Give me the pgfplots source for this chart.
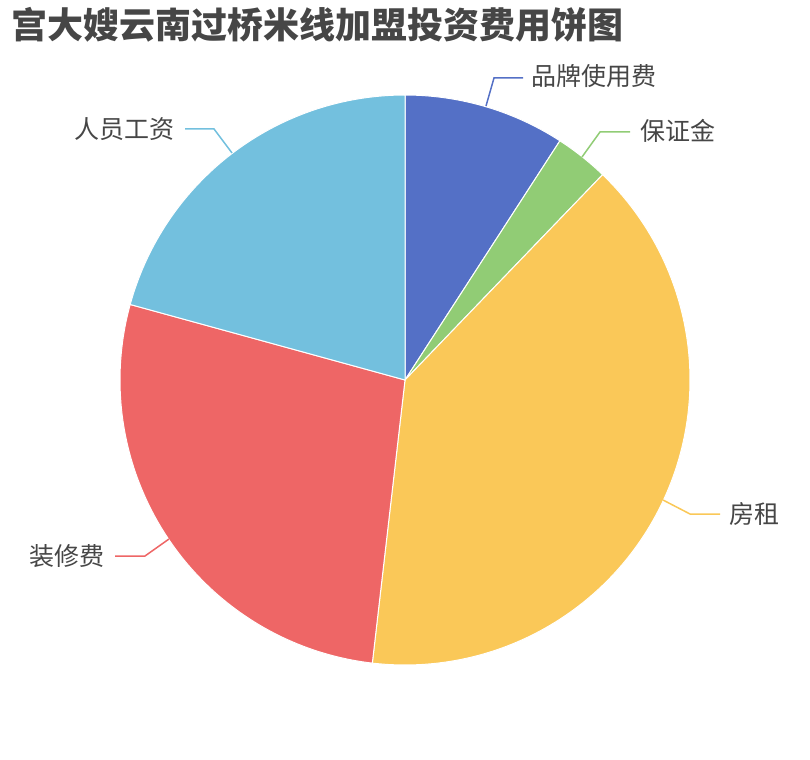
\documentclass[border=0pt]{standalone}
\usepackage{pgfplots}
\pgfplotsset{compat=1.18}
\usepackage{fontspec}
\newfontfamily\cjk{Noto Sans CJK SC}
\definecolor{cA}{HTML}{5470C6}
\definecolor{cB}{HTML}{91CC75}
\definecolor{cC}{HTML}{FAC858}
\definecolor{cD}{HTML}{EE6666}
\definecolor{cE}{HTML}{73C0DE}
\definecolor{txt}{HTML}{464646}
% slice values
\def\vA{3}\def\vB{1}\def\vC{13}\def\vD{9}\def\vE{6.8}
\begin{document}
\begin{tikzpicture}
\pgfmathsetmacro\tot{\vA+\vB+\vC+\vD+\vE}
\pgfmathsetmacro\aA{0}
\pgfmathsetmacro\aB{360*\vA/\tot}
\pgfmathsetmacro\aC{360*(\vA+\vB)/\tot}
\pgfmathsetmacro\aD{360*(\vA+\vB+\vC)/\tot}
\pgfmathsetmacro\aE{360*(\vA+\vB+\vC+\vD)/\tot}
\pgfmathsetmacro\aF{360}
\begin{axis}[
  scale only axis, width=405pt, height=380pt,
  xmin=0, xmax=810, ymin=0, ymax=760, y dir=reverse,
  hide axis, clip=false,
]
\def\cx{405}\def\cy{380}\def\R{285}
\addplot[fill=cA, draw=white, line width=0.5pt, domain=\aA:\aB, samples=40] ({\cx+\R*sin(x)},{\cy-\R*cos(x)}) -- (axis cs:\cx,\cy) -- cycle;
\addplot[fill=cB, draw=white, line width=0.5pt, domain=\aB:\aC, samples=20] ({\cx+\R*sin(x)},{\cy-\R*cos(x)}) -- (axis cs:\cx,\cy) -- cycle;
\addplot[fill=cC, draw=white, line width=0.5pt, domain=\aC:\aD, samples=120] ({\cx+\R*sin(x)},{\cy-\R*cos(x)}) -- (axis cs:\cx,\cy) -- cycle;
\addplot[fill=cD, draw=white, line width=0.5pt, domain=\aD:\aE, samples=90] ({\cx+\R*sin(x)},{\cy-\R*cos(x)}) -- (axis cs:\cx,\cy) -- cycle;
\addplot[fill=cE, draw=white, line width=0.5pt, domain=\aE:\aF, samples=70] ({\cx+\R*sin(x)},{\cy-\R*cos(x)}) -- (axis cs:\cx,\cy) -- cycle;
% leader lines
\draw[cA, line width=0.75pt] (axis cs:486,106) -- (axis cs:494,78) -- (axis cs:523,78);
\draw[cB, line width=0.75pt] (axis cs:582,157) -- (axis cs:600,132) -- (axis cs:630,132);
\draw[cC, line width=0.75pt] (axis cs:663,500) -- (axis cs:690,514) -- (axis cs:720,514);
\draw[cD, line width=0.75pt] (axis cs:169,539) -- (axis cs:145,556) -- (axis cs:115,556);
\draw[cE, line width=0.75pt] (axis cs:232,153) -- (axis cs:214,129) -- (axis cs:185,129);
% labels
\node[anchor=west, inner sep=0pt, text=txt, font=\cjk\fontsize{12.5pt}{14pt}\selectfont] at (axis cs:531,76) {品牌使用费};
\node[anchor=west, inner sep=0pt, text=txt, font=\cjk\fontsize{12.5pt}{14pt}\selectfont] at (axis cs:640,131) {保证金};
\node[anchor=west, inner sep=0pt, text=txt, font=\cjk\fontsize{12.5pt}{14pt}\selectfont] at (axis cs:729,514) {房租};
\node[anchor=east, inner sep=0pt, text=txt, font=\cjk\fontsize{12.5pt}{14pt}\selectfont] at (axis cs:105,556) {装修费};
\node[anchor=east, inner sep=0pt, text=txt, font=\cjk\fontsize{12.5pt}{14pt}\selectfont] at (axis cs:175,129) {人员工资};
% title
\node[anchor=west, inner sep=0pt, text=txt, font=\cjk\bfseries\fontsize{18pt}{20pt}\selectfont] at (axis cs:11,25) {宫大嫂云南过桥米线加盟投资费用饼图};
\end{axis}
\pgfresetboundingbox
\path[use as bounding box] (current axis.south west) rectangle (current axis.north east);
\end{tikzpicture}
\end{document}
